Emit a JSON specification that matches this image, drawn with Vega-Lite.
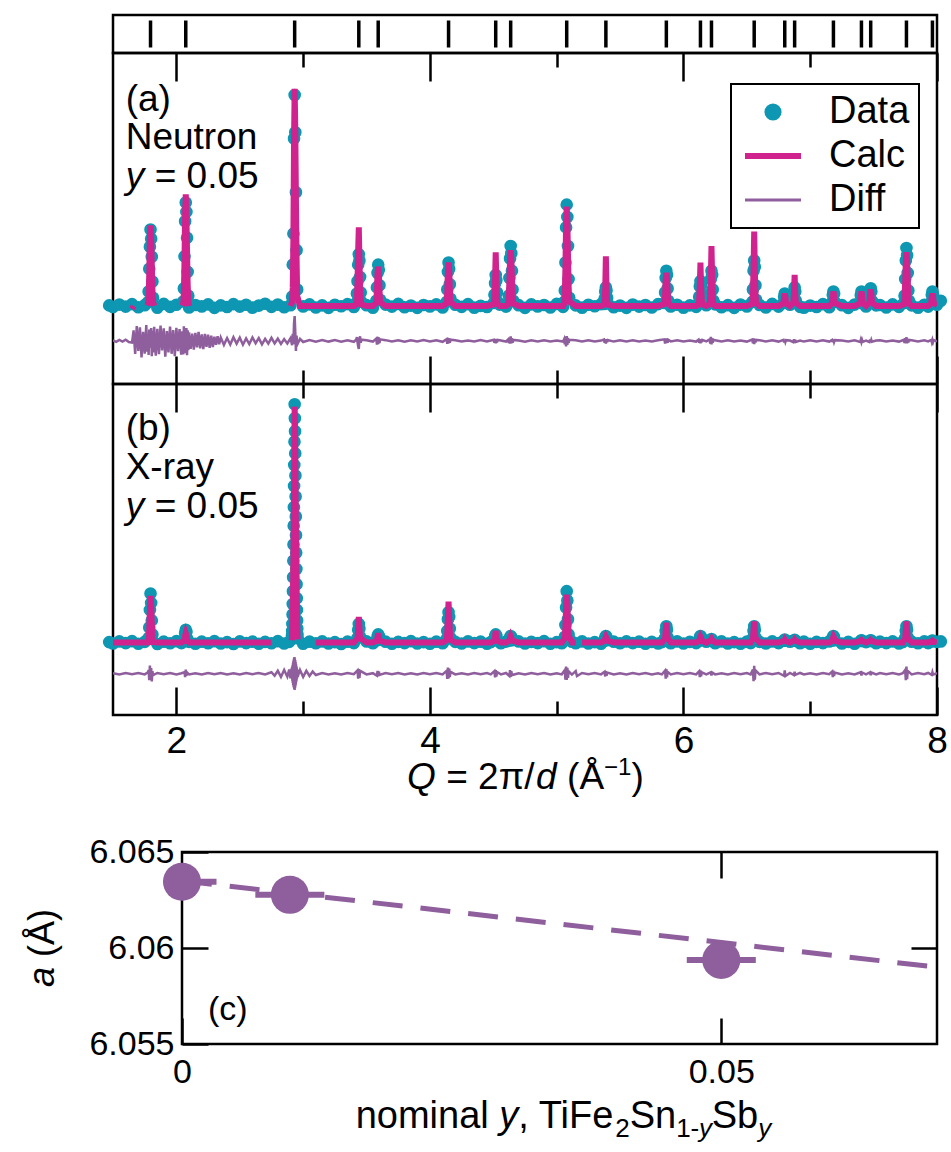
{
"$schema": "https://vega.github.io/schema/vega-lite/v6.json",
"background": "white",
"padding": {"left": 23, "top": 13, "right": 4, "bottom": 4},
"config": {
  "font": "Liberation Sans",
  "view": {"stroke": "black", "strokeWidth": 2.5},
  "axis": {"domain": false, "grid": false, "tickColor": "black", "tickWidth": 2.5, "labelColor": "black", "titleColor": "black", "labelFontSize": 37, "titleFontSize": 37, "titleFontWeight": "normal", "labelFont": "Liberation Sans", "titleFont": "Liberation Sans", "labelFlush": false},
  "legend": {"labelFont": "Liberation Sans"}
},
"datasets": {
  "refl": [{"q":1.796},{"q":2.074},{"q":2.933},{"q":3.439},{"q":3.592},{"q":4.147},{"q":4.519},{"q":4.637},{"q":5.079},{"q":5.388},{"q":5.865},{"q":6.134},{"q":6.221},{"q":6.558},{"q":6.799},{"q":6.877},{"q":7.183},{"q":7.404},{"q":7.477},{"q":7.759},{"q":7.964}],
  "neutron": [
{"q":1.47,"obs":0.3},{"q":1.5,"obs":-0.5,"calc":-1.5,"diff":0.3},{"q":1.525,"diff":-0.4},{"q":1.55,"obs":0.7,"calc":-1.5,"diff":0.5},{"q":1.575,"diff":-0.3},{"q":1.6,"obs":-0.3,"calc":-1.5,"diff":0.6},{"q":1.625,"diff":-0.5},{"q":1.65,"obs":0.9,"calc":-1.4,"diff":-0.8},
{"q":1.6625,"calc":0,"diff":5.1},{"q":1.675,"diff":-6.3},{"q":1.6875,"diff":7.2},{"q":1.7,"obs":-0.6,"calc":0,"diff":-4.8},{"q":1.7125,"diff":6.6},{"q":1.725,"diff":-7.9},{"q":1.7375,"diff":4.4},{"q":1.75,"obs":0.4,"calc":0,"diff":-6.1},{"q":1.7625,"diff":7.7},{"q":1.77,"calc":0.2,"diff":-5.2},
{"q":1.776,"obs":1.8,"calc":1.0,"diff":3.1},{"q":1.781,"obs":7.0,"calc":4.5,"diff":-6.8},{"q":1.786,"obs":18.0,"calc":15.5,"diff":5.5},{"q":1.791,"obs":28.6,"calc":32.0,"diff":-2.4},{"q":1.796,"obs":37.0,"calc":39.0,"diff":-1.9},{"q":1.801,"obs":32.5,"calc":33.5,"diff":6.2},{"q":1.806,"obs":23.8,"calc":20.0,"diff":-7.4},{"q":1.811,"obs":11.8,"calc":7.5,"diff":4.9},{"q":1.816,"obs":4.0,"calc":1.8,"diff":-5.6},
{"q":1.825,"calc":0.1,"diff":6.8},{"q":1.8375,"diff":-7.1},{"q":1.85,"obs":-0.8,"calc":0,"diff":5.9},{"q":1.8625,"diff":-6.4},{"q":1.875,"diff":7.5},{"q":1.8875,"diff":-4.6},{"q":1.9,"obs":1.0,"calc":0,"diff":6.1},{"q":1.9125,"diff":-7.6},{"q":1.925,"diff":4.8},{"q":1.9375,"diff":-5.5},{"q":1.95,"obs":-0.4,"calc":0,"diff":6.9},{"q":1.9625,"diff":-6.2},{"q":1.975,"diff":5.3},{"q":1.9875,"diff":-7.3},{"q":2.0,"obs":0.6,"calc":0,"diff":6.4},{"q":2.0125,"diff":-4.9},{"q":2.025,"diff":5.8},{"q":2.0375,"diff":-6.6},{"q":2.047,"calc":0.2,"diff":4.7},
{"q":2.054,"obs":2.2,"calc":1.2,"diff":-6.5},{"q":2.059,"obs":8.5,"calc":6.0,"diff":7.1},{"q":2.064,"obs":24.0,"calc":22.0,"diff":-3.2},{"q":2.069,"obs":41.0,"calc":45.0,"diff":-5.8},{"q":2.074,"obs":50.0,"calc":54.0,"diff":-4.1},{"q":2.079,"obs":45.5,"calc":44.0,"diff":6.3},{"q":2.084,"obs":33.0,"calc":27.0,"diff":-6.9},{"q":2.089,"obs":16.5,"calc":10.5,"diff":5.2},{"q":2.094,"obs":5.0,"calc":2.5,"diff":-4.4},
{"q":2.1,"obs":-0.7,"calc":0,"diff":4.1},{"q":2.1125,"diff":-3.8},{"q":2.125,"diff":3.5},{"q":2.1375,"diff":-4.2},{"q":2.15,"obs":0.5,"calc":0,"diff":3.9},{"q":2.1625,"diff":-3.1},{"q":2.175,"diff":4.4},{"q":2.1875,"diff":-3.6},{"q":2.2,"obs":-0.2,"calc":0,"diff":3.2},{"q":2.2125,"diff":-3.9},{"q":2.225,"diff":3.4},{"q":2.2375,"diff":-2.8},{"q":2.25,"obs":0.8,"calc":0,"diff":3.0},{"q":2.2625,"diff":-3.3},{"q":2.275,"diff":2.6},{"q":2.2875,"diff":-2.9},{"q":2.3,"obs":-0.9,"calc":0,"diff":2.1},{"q":2.3125,"diff":-1.8},{"q":2.325,"diff":2.3},{"q":2.3375,"diff":-1.6},{"q":2.35,"obs":0.3,"calc":0,"diff":1.7},
{"q":2.375,"diff":-1.9},{"q":2.4,"obs":-0.5,"calc":0,"diff":1.4},{"q":2.425,"diff":-1.7},{"q":2.45,"obs":0.9,"calc":0,"diff":1.8},{"q":2.475,"diff":-1.3},{"q":2.5,"obs":-0.3,"calc":0,"diff":1.6},{"q":2.525,"diff":-1.8},{"q":2.55,"obs":0.6,"calc":0,"diff":1.2},{"q":2.575,"diff":-1.5},{"q":2.6,"obs":-0.8,"calc":0,"diff":1.7},{"q":2.625,"diff":-1.1},{"q":2.65,"obs":0.2,"calc":0,"diff":1.4},{"q":2.675,"diff":-1.6},{"q":2.7,"obs":1.1,"calc":0,"diff":1.0},{"q":2.725,"diff":-1.3},{"q":2.75,"obs":-0.4,"calc":0,"diff":1.5},{"q":2.775,"diff":-1.2},{"q":2.8,"obs":0.7,"calc":0,"diff":1.1},{"q":2.825,"diff":-1.4},{"q":2.85,"obs":-0.6,"calc":0,"diff":0.9},{"q":2.875,"diff":-1.2},{"q":2.9,"obs":0.4,"calc":0,"diff":1.3},
{"q":2.913,"obs":4.5,"calc":2.0,"diff":-2.0},{"q":2.918,"obs":20.0,"calc":9.0,"diff":3.5},{"q":2.923,"obs":35.0,"calc":33.0,"diff":-1.5},{"q":2.928,"obs":81.0,"calc":80.0,"diff":8.5},{"q":2.933,"obs":102.0,"calc":105.0,"diff":12.0},{"q":2.938,"obs":84.0,"calc":85.0,"diff":4.2},{"q":2.943,"obs":55.0,"calc":52.0,"diff":-4.8},{"q":2.948,"obs":27.0,"calc":24.0,"diff":2.6},{"q":2.953,"obs":8.0,"calc":5.0,"diff":-1.8},
{"q":2.975,"calc":0,"diff":1.0},{"q":3.0,"obs":-0.2,"calc":0,"diff":-0.5},{"q":3.05,"obs":0.8,"calc":0,"diff":0.4},{"q":3.1,"obs":-0.7,"calc":0,"diff":-0.4},{"q":3.15,"obs":0.3,"calc":0,"diff":0.5},{"q":3.2,"obs":-0.9,"calc":0,"diff":-0.3},{"q":3.25,"obs":0.6,"calc":0,"diff":0.4},{"q":3.3,"obs":-0.1,"calc":0,"diff":-0.4},{"q":3.35,"obs":0.9,"calc":0,"diff":0.3},{"q":3.4,"obs":-0.5,"calc":0,"diff":-0.4},
{"q":3.419,"obs":1.5,"calc":0.8,"diff":0.7},{"q":3.424,"obs":6.0,"calc":4.0,"diff":1.9},{"q":3.429,"obs":12.0,"calc":12.0,"diff":-0.6},{"q":3.434,"obs":20.0,"calc":27.0,"diff":-2.5},{"q":3.439,"obs":25.0,"calc":38.0,"diff":-3.9},{"q":3.444,"obs":22.0,"calc":22.0,"diff":1.1},{"q":3.449,"obs":14.0,"calc":9.0,"diff":2.2},{"q":3.454,"obs":6.5,"calc":3.0,"diff":-0.9},{"q":3.459,"obs":2.0,"calc":0.8,"diff":0.6},
{"q":3.5,"obs":0.4,"calc":0,"diff":0.3},{"q":3.55,"obs":-0.8,"calc":0,"diff":-0.3},
{"q":3.577,"obs":2.5,"calc":1.5,"diff":1.2},{"q":3.582,"obs":9.0,"calc":8.0,"diff":-1.8},{"q":3.587,"obs":16.0,"calc":16.5,"diff":2.0},{"q":3.592,"obs":20.0,"calc":19.0,"diff":-1.5},{"q":3.597,"obs":17.5,"calc":16.0,"diff":1.7},{"q":3.602,"obs":10.0,"calc":8.0,"diff":-1.0},{"q":3.607,"obs":3.0,"calc":1.8,"diff":0.8},
{"q":3.65,"obs":0.7,"calc":0,"diff":0.4},{"q":3.7,"obs":-0.3,"calc":0,"diff":-0.3},{"q":3.75,"obs":1.0,"calc":0,"diff":0.3},{"q":3.8,"obs":-0.6,"calc":0,"diff":-0.4},{"q":3.85,"obs":0.2,"calc":0,"diff":0.3},{"q":3.9,"obs":-0.9,"calc":0,"diff":-0.2},{"q":3.95,"obs":0.5,"calc":0,"diff":0.4},{"q":4.0,"obs":-0.2,"calc":0,"diff":-0.3},{"q":4.05,"obs":0.8,"calc":0,"diff":0.3},{"q":4.1,"obs":-0.7,"calc":0,"diff":-0.4},
{"q":4.132,"obs":2.0,"calc":1.3,"diff":0.9},{"q":4.137,"obs":8.0,"calc":7.5,"diff":-1.4},{"q":4.142,"obs":16.5,"calc":17.0,"diff":1.5},{"q":4.147,"obs":21.0,"calc":21.0,"diff":-1.2},{"q":4.152,"obs":18.0,"calc":17.5,"diff":1.3},{"q":4.157,"obs":10.5,"calc":8.5,"diff":-0.9},{"q":4.162,"obs":3.5,"calc":2.0,"diff":0.6},
{"q":4.2,"obs":0.6,"calc":0,"diff":0.3},{"q":4.25,"obs":-0.4,"calc":0,"diff":-0.3},{"q":4.3,"obs":0.9,"calc":0,"diff":0.2},{"q":4.35,"obs":-0.8,"calc":0,"diff":-0.3},{"q":4.4,"obs":0.1,"calc":0,"diff":0.4},{"q":4.45,"obs":-0.5,"calc":0,"diff":-0.2},
{"q":4.504,"obs":1.5,"calc":0.8,"diff":0.6},{"q":4.509,"obs":5.5,"calc":4.0,"diff":-0.8},{"q":4.514,"obs":11.0,"calc":13.0,"diff":1.0},{"q":4.519,"obs":15.0,"calc":26.0,"diff":-1.1},{"q":4.524,"obs":12.5,"calc":12.0,"diff":0.9},{"q":4.529,"obs":6.5,"calc":4.0,"diff":-0.7},{"q":4.534,"obs":2.0,"calc":1.0,"diff":0.5},
{"q":4.55,"obs":0.7,"calc":0,"diff":0.3},{"q":4.6,"obs":-0.3,"calc":0,"diff":-0.3},
{"q":4.617,"obs":1.5,"calc":0.8,"diff":0.8},{"q":4.622,"obs":5.0,"calc":3.5,"diff":-1.0},{"q":4.627,"obs":13.5,"calc":12.0,"diff":1.6},{"q":4.632,"obs":23.0,"calc":22.0,"diff":-1.3},{"q":4.637,"obs":29.0,"calc":27.0,"diff":2.2},{"q":4.642,"obs":25.5,"calc":23.0,"diff":-1.1},{"q":4.647,"obs":17.0,"calc":14.0,"diff":1.4},{"q":4.652,"obs":8.0,"calc":5.5,"diff":-0.8},{"q":4.657,"obs":2.5,"calc":1.2,"diff":0.5},
{"q":4.7,"obs":0.4,"calc":0,"diff":0.2},{"q":4.75,"obs":-0.9,"calc":0,"diff":-0.4},{"q":4.8,"obs":0.8,"calc":0,"diff":0.3},{"q":4.85,"obs":-0.2,"calc":0,"diff":-0.2},{"q":4.9,"obs":0.5,"calc":0,"diff":0.3},{"q":4.95,"obs":-0.7,"calc":0,"diff":-0.3},{"q":5.0,"obs":1.0,"calc":0,"diff":0.2},{"q":5.05,"obs":-0.4,"calc":0,"diff":-0.3},
{"q":5.059,"obs":2.0,"calc":1.0,"diff":0.9},{"q":5.064,"obs":7.5,"calc":5.5,"diff":-1.6},{"q":5.069,"obs":21.0,"calc":19.0,"diff":2.1},{"q":5.074,"obs":38.0,"calc":39.0,"diff":-2.6},{"q":5.079,"obs":49.0,"calc":48.0,"diff":2.4},{"q":5.084,"obs":43.0,"calc":41.0,"diff":-1.9},{"q":5.089,"obs":29.0,"calc":25.0,"diff":1.5},{"q":5.094,"obs":13.0,"calc":10.0,"diff":-1.0},{"q":5.099,"obs":4.0,"calc":2.2,"diff":0.6},
{"q":5.15,"obs":0.3,"calc":0,"diff":0.3},{"q":5.2,"obs":-0.8,"calc":0,"diff":-0.2},{"q":5.25,"obs":0.6,"calc":0,"diff":0.3},{"q":5.3,"obs":-0.1,"calc":0,"diff":-0.3},{"q":5.35,"obs":0.9,"calc":0,"diff":0.2},
{"q":5.373,"obs":1.0,"calc":0.6,"diff":0.7},{"q":5.378,"obs":3.5,"calc":3.0,"diff":-0.9},{"q":5.383,"obs":7.0,"calc":9.0,"diff":0.8},{"q":5.388,"obs":9.0,"calc":24.0,"diff":-1.2},{"q":5.393,"obs":7.5,"calc":8.0,"diff":0.9},{"q":5.398,"obs":4.0,"calc":2.5,"diff":-0.6},{"q":5.403,"obs":1.2,"calc":0.6,"diff":0.5},
{"q":5.45,"obs":-0.6,"calc":0,"diff":-0.3},{"q":5.5,"obs":0.2,"calc":0,"diff":0.3},{"q":5.55,"obs":-0.9,"calc":0,"diff":-0.2},{"q":5.6,"obs":0.7,"calc":0,"diff":0.3},{"q":5.65,"obs":-0.3,"calc":0,"diff":-0.3},{"q":5.7,"obs":0.5,"calc":0,"diff":0.2},{"q":5.75,"obs":-0.7,"calc":0,"diff":-0.3},{"q":5.8,"obs":0.9,"calc":0,"diff":0.3},
{"q":5.85,"obs":1.5,"calc":1.0,"diff":0.8},{"q":5.855,"obs":6.5,"calc":6.0,"diff":-1.3},{"q":5.86,"obs":13.5,"calc":13.0,"diff":1.1},{"q":5.865,"obs":17.0,"calc":16.0,"diff":-1.0},{"q":5.87,"obs":15.0,"calc":14.0,"diff":1.2},{"q":5.875,"obs":8.5,"calc":7.0,"diff":-0.9},{"q":5.88,"obs":2.5,"calc":1.5,"diff":0.6},
{"q":5.9,"obs":-0.2,"calc":0,"diff":-0.2},{"q":5.95,"obs":0.6,"calc":0,"diff":0.3},{"q":6.0,"obs":-0.8,"calc":0,"diff":-0.3},{"q":6.05,"obs":0.3,"calc":0,"diff":0.2},{"q":6.1,"obs":-0.4,"calc":0,"diff":-0.3},
{"q":6.119,"obs":1.2,"calc":0.6,"diff":0.6},{"q":6.124,"obs":4.5,"calc":3.5,"diff":-0.8},{"q":6.129,"obs":9.5,"calc":10.0,"diff":0.9},{"q":6.134,"obs":12.0,"calc":21.0,"diff":-1.1},{"q":6.139,"obs":10.0,"calc":9.5,"diff":0.7},{"q":6.144,"obs":5.0,"calc":3.5,"diff":-0.6},{"q":6.149,"obs":1.5,"calc":0.8,"diff":0.5},
{"q":6.18,"obs":0.4,"calc":0,"diff":-0.2},
{"q":6.206,"obs":1.5,"calc":0.8,"diff":0.7},{"q":6.211,"obs":6.0,"calc":5.0,"diff":-1.2},{"q":6.216,"obs":13.0,"calc":14.0,"diff":2.0},{"q":6.221,"obs":17.0,"calc":29.0,"diff":-1.6},{"q":6.226,"obs":15.0,"calc":14.0,"diff":1.3},{"q":6.231,"obs":8.0,"calc":5.0,"diff":-0.8},{"q":6.236,"obs":2.5,"calc":1.0,"diff":0.6},
{"q":6.25,"obs":0.8,"calc":0,"diff":0.3},{"q":6.3,"obs":-0.6,"calc":0,"diff":-0.2},{"q":6.35,"obs":0.4,"calc":0,"diff":0.3},{"q":6.4,"obs":-0.9,"calc":0,"diff":-0.3},{"q":6.45,"obs":0.7,"calc":0,"diff":0.2},{"q":6.5,"obs":-0.2,"calc":0,"diff":-0.3},
{"q":6.543,"obs":2.0,"calc":1.0,"diff":0.7},{"q":6.548,"obs":8.0,"calc":6.5,"diff":-1.1},{"q":6.553,"obs":17.0,"calc":18.0,"diff":1.2},{"q":6.558,"obs":22.0,"calc":36.0,"diff":-1.5},{"q":6.563,"obs":19.0,"calc":17.0,"diff":1.0},{"q":6.568,"obs":10.0,"calc":6.0,"diff":-0.7},{"q":6.573,"obs":3.0,"calc":1.5,"diff":0.5},
{"q":6.6,"obs":0.5,"calc":0,"diff":0.3},{"q":6.65,"obs":-0.7,"calc":0,"diff":-0.2},{"q":6.7,"obs":1.0,"calc":0,"diff":0.3},{"q":6.75,"obs":-0.3,"calc":0,"diff":-0.3},
{"q":6.789,"obs":1.5,"calc":1.2,"diff":0.5},{"q":6.794,"obs":4.5,"calc":4.5,"diff":-0.7},{"q":6.799,"obs":6.0,"calc":6.0,"diff":0.6},{"q":6.804,"obs":4.8,"calc":4.5,"diff":-0.5},{"q":6.809,"obs":1.8,"calc":1.4,"diff":0.4},
{"q":6.84,"obs":0.6,"calc":0,"diff":0.2},
{"q":6.867,"obs":2.0,"calc":1.5,"diff":-0.6},{"q":6.872,"obs":6.5,"calc":6.0,"diff":0.8},{"q":6.877,"obs":9.0,"calc":15.0,"diff":-0.9},{"q":6.882,"obs":7.0,"calc":6.0,"diff":0.6},{"q":6.887,"obs":2.5,"calc":1.5,"diff":-0.5},
{"q":6.92,"obs":-0.4,"calc":0,"diff":0.2},{"q":6.95,"obs":-0.8,"calc":0,"diff":-0.3},{"q":7.0,"obs":0.2,"calc":0,"diff":0.3},{"q":7.05,"obs":-0.5,"calc":0,"diff":-0.2},{"q":7.1,"obs":0.9,"calc":0,"diff":0.3},{"q":7.15,"obs":-0.6,"calc":0,"diff":-0.3},
{"q":7.173,"obs":1.8,"calc":1.4,"diff":0.5},{"q":7.178,"obs":5.5,"calc":5.2,"diff":-0.6},{"q":7.183,"obs":7.0,"calc":7.0,"diff":0.7},{"q":7.188,"obs":5.8,"calc":5.4,"diff":-0.5},{"q":7.193,"obs":2.0,"calc":1.5,"diff":0.4},
{"q":7.25,"obs":0.4,"calc":0,"diff":0.2},{"q":7.3,"obs":-0.9,"calc":0,"diff":-0.3},{"q":7.35,"obs":0.7,"calc":0,"diff":0.3},
{"q":7.394,"obs":1.6,"calc":1.3,"diff":-0.5},{"q":7.399,"obs":5.2,"calc":5.0,"diff":0.6},{"q":7.404,"obs":7.0,"calc":7.0,"diff":-0.6},{"q":7.409,"obs":5.6,"calc":5.2,"diff":0.5},{"q":7.414,"obs":1.9,"calc":1.4,"diff":-0.4},
{"q":7.44,"obs":-0.2,"calc":0,"diff":0.2},
{"q":7.467,"obs":2.0,"calc":1.6,"diff":-0.5},{"q":7.472,"obs":6.5,"calc":6.0,"diff":0.7},{"q":7.477,"obs":8.6,"calc":8.0,"diff":-0.6},{"q":7.482,"obs":7.0,"calc":6.2,"diff":0.5},{"q":7.487,"obs":2.4,"calc":1.8,"diff":-0.4},
{"q":7.52,"obs":0.3,"calc":0,"diff":0.2},{"q":7.55,"obs":0.5,"calc":0,"diff":0.3},{"q":7.6,"obs":-0.7,"calc":0,"diff":-0.3},{"q":7.65,"obs":0.8,"calc":0,"diff":0.2},{"q":7.7,"obs":-0.4,"calc":0,"diff":-0.3},
{"q":7.739,"obs":1.5,"calc":0.8,"diff":0.6},{"q":7.744,"obs":5.0,"calc":3.5,"diff":-1.0},{"q":7.749,"obs":13.0,"calc":11.5,"diff":1.4},{"q":7.754,"obs":22.0,"calc":21.0,"diff":-1.2},{"q":7.759,"obs":28.0,"calc":26.0,"diff":1.9},{"q":7.764,"obs":24.5,"calc":22.0,"diff":-1.1},{"q":7.769,"obs":16.0,"calc":13.0,"diff":1.0},{"q":7.774,"obs":7.5,"calc":5.0,"diff":-0.7},{"q":7.779,"obs":2.5,"calc":1.2,"diff":0.5},
{"q":7.8,"obs":0.3,"calc":0,"diff":0.3},{"q":7.85,"obs":-0.8,"calc":0,"diff":-0.2},{"q":7.9,"obs":0.6,"calc":0,"diff":0.3},{"q":7.93,"obs":-0.3,"calc":0,"diff":-0.2},
{"q":7.954,"obs":1.8,"calc":1.3,"diff":0.5},{"q":7.959,"obs":5.5,"calc":4.6,"diff":-0.6},{"q":7.964,"obs":7.0,"calc":6.0,"diff":0.6},{"q":7.969,"obs":5.6,"calc":4.7,"diff":-0.5},{"q":7.974,"obs":2.0,"calc":1.4,"diff":0.4},
{"q":8.0,"obs":0.6,"calc":0.3,"diff":-0.2},{"q":8.03,"obs":2.5}
  ],
  "xray": [
{"q":1.47,"obs":0.2},{"q":1.5,"obs":-0.4,"calc":0,"diff":0.2},{"q":1.55,"obs":0.5,"calc":0,"diff":-0.3},{"q":1.6,"obs":-0.2,"calc":0,"diff":0.3},{"q":1.65,"obs":0.6,"calc":0,"diff":-0.2},{"q":1.7,"obs":-0.5,"calc":0,"diff":0.3},{"q":1.75,"obs":0.3,"calc":0,"diff":-0.3},
{"q":1.776,"calc":0.1,"diff":0.6},{"q":1.781,"obs":2.0,"calc":1.5,"diff":1.5},{"q":1.786,"obs":6.5,"calc":6.0,"diff":-2.8},{"q":1.791,"obs":14.0,"calc":13.5,"diff":3.5},{"q":1.796,"obs":21.0,"calc":20.0,"diff":-1.2},{"q":1.801,"obs":17.0,"calc":16.5,"diff":2.4},{"q":1.806,"obs":9.5,"calc":8.5,"diff":-3.3},{"q":1.811,"obs":3.5,"calc":2.5,"diff":1.0},{"q":1.816,"calc":0.2,"diff":-0.6},
{"q":1.85,"obs":-0.6,"calc":0,"diff":0.3},{"q":1.9,"obs":0.4,"calc":0,"diff":-0.2},{"q":1.95,"obs":-0.3,"calc":0,"diff":0.3},{"q":2.0,"obs":0.6,"calc":0,"diff":-0.3},{"q":2.04,"obs":-0.2,"calc":0,"diff":0.2},
{"q":2.064,"obs":1.5,"calc":1.0,"diff":0.6},{"q":2.069,"obs":4.0,"calc":3.0,"diff":-1.5},{"q":2.074,"obs":5.5,"calc":4.0,"diff":1.7},{"q":2.079,"obs":4.5,"calc":3.2,"diff":-0.9},{"q":2.084,"obs":1.8,"calc":1.2,"diff":0.5},
{"q":2.1,"obs":0.3,"calc":0,"diff":-0.3},{"q":2.15,"obs":-0.5,"calc":0,"diff":0.2},{"q":2.2,"obs":0.4,"calc":0,"diff":-0.3},{"q":2.25,"obs":-0.3,"calc":0,"diff":0.3},{"q":2.3,"obs":0.6,"calc":0,"diff":-0.2},{"q":2.35,"obs":-0.4,"calc":0,"diff":0.3},{"q":2.4,"obs":0.2,"calc":0,"diff":-0.3},{"q":2.45,"obs":-0.6,"calc":0,"diff":0.2},{"q":2.5,"obs":0.5,"calc":0,"diff":-0.3},{"q":2.55,"obs":-0.2,"calc":0,"diff":0.3},{"q":2.6,"obs":0.4,"calc":0,"diff":-0.2},{"q":2.65,"obs":-0.5,"calc":0,"diff":0.3},{"q":2.7,"obs":0.3,"calc":0,"diff":-0.3},
{"q":2.75,"obs":-0.3,"calc":0,"diff":0.6},{"q":2.775,"diff":-0.9},{"q":2.8,"obs":0.6,"calc":0,"diff":1.2},{"q":2.825,"diff":-1.4},{"q":2.85,"obs":-0.4,"calc":0,"diff":1.6},{"q":2.875,"diff":-1.3},{"q":2.89,"obs":0.3,"calc":0,"diff":1.8},{"q":2.9,"diff":-2.0},
{"q":2.9105,"obs":1.5,"calc":1.0,"diff":2.5},{"q":2.912,"obs":3.0,"calc":2.2,"diff":-2.2},{"q":2.9135,"obs":5.0,"calc":4.0,"diff":3.0},{"q":2.915,"obs":8.0,"calc":7.0,"diff":-3.1},{"q":2.9165,"obs":12.0,"calc":11.0,"diff":3.6},{"q":2.918,"obs":16.5,"calc":15.5,"diff":-4.0},{"q":2.9195,"obs":22.0,"calc":21.0,"diff":4.4},{"q":2.921,"obs":28.0,"calc":27.5,"diff":-4.8},{"q":2.9225,"obs":35.0,"calc":34.0,"diff":5.3},{"q":2.924,"obs":42.0,"calc":41.5,"diff":-5.5},{"q":2.9255,"obs":50.0,"calc":49.0,"diff":6.1},{"q":2.927,"obs":58.0,"calc":57.5,"diff":-6.0},{"q":2.9285,"obs":67.0,"calc":66.0,"diff":6.8},{"q":2.93,"obs":76.0,"calc":75.5,"diff":-6.6},{"q":2.9315,"obs":86.0,"calc":85.0,"diff":7.1},{"q":2.933,"obs":102.0,"calc":101.0,"diff":-7.0},{"q":2.9345,"obs":96.0,"calc":96.5,"diff":6.5},{"q":2.936,"obs":90.5,"calc":90.0,"diff":-6.2},{"q":2.9375,"obs":81.0,"calc":81.5,"diff":5.8},{"q":2.939,"obs":71.5,"calc":71.0,"diff":-5.4},{"q":2.9405,"obs":62.5,"calc":62.0,"diff":5.0},{"q":2.942,"obs":54.0,"calc":54.5,"diff":-4.6},{"q":2.9435,"obs":46.0,"calc":45.5,"diff":4.1},{"q":2.945,"obs":38.5,"calc":38.0,"diff":-3.7},{"q":2.9465,"obs":31.5,"calc":31.0,"diff":3.3},{"q":2.948,"obs":25.0,"calc":24.5,"diff":-2.9},{"q":2.9495,"obs":19.0,"calc":18.0,"diff":2.6},{"q":2.951,"obs":14.0,"calc":13.5,"diff":-2.2},{"q":2.9525,"obs":9.5,"calc":9.0,"diff":1.9},{"q":2.954,"obs":6.0,"calc":5.5,"diff":-1.7},{"q":2.9555,"obs":3.5,"calc":3.0,"diff":1.5},{"q":2.957,"obs":1.8,"calc":1.4,"diff":-1.3},
{"q":2.975,"diff":1.6},{"q":3.0,"obs":-0.5,"calc":0,"diff":-1.4},{"q":3.025,"diff":1.2},{"q":3.05,"obs":0.4,"calc":0,"diff":-1.0},{"q":3.075,"diff":0.9},{"q":3.1,"obs":-0.3,"calc":0,"diff":-0.6},{"q":3.15,"obs":0.5,"calc":0,"diff":0.3},{"q":3.2,"obs":-0.4,"calc":0,"diff":-0.3},{"q":3.25,"obs":0.2,"calc":0,"diff":0.2},{"q":3.3,"obs":-0.6,"calc":0,"diff":-0.3},{"q":3.35,"obs":0.4,"calc":0,"diff":0.3},{"q":3.4,"obs":-0.2,"calc":0,"diff":-0.2},
{"q":3.429,"obs":2.0,"calc":1.8,"diff":1.4},{"q":3.434,"obs":5.5,"calc":6.0,"diff":-2.1},{"q":3.439,"obs":8.0,"calc":11.0,"diff":2.0},{"q":3.444,"obs":6.0,"calc":6.0,"diff":-1.8},{"q":3.449,"obs":2.5,"calc":2.0,"diff":1.2},
{"q":3.5,"obs":0.5,"calc":0,"diff":-0.3},{"q":3.55,"obs":-0.3,"calc":0,"diff":0.2},
{"q":3.582,"obs":1.0,"calc":0.8,"diff":-0.9},{"q":3.587,"obs":2.6,"calc":2.6,"diff":1.2},{"q":3.592,"obs":3.5,"calc":4.0,"diff":-1.1},{"q":3.597,"obs":2.8,"calc":2.6,"diff":0.9},{"q":3.602,"obs":1.2,"calc":0.9,"diff":-0.5},
{"q":3.65,"obs":0.4,"calc":0,"diff":0.3},{"q":3.7,"obs":-0.5,"calc":0,"diff":-0.2},{"q":3.75,"obs":0.3,"calc":0,"diff":0.3},{"q":3.8,"obs":-0.2,"calc":0,"diff":-0.3},{"q":3.85,"obs":0.6,"calc":0,"diff":0.2},{"q":3.9,"obs":-0.4,"calc":0,"diff":-0.3},{"q":3.95,"obs":0.2,"calc":0,"diff":0.3},{"q":4.0,"obs":-0.5,"calc":0,"diff":-0.2},{"q":4.05,"obs":0.4,"calc":0,"diff":0.3},{"q":4.1,"obs":-0.3,"calc":0,"diff":-0.3},
{"q":4.132,"obs":1.5,"calc":1.0,"diff":1.2},{"q":4.137,"obs":5.0,"calc":4.5,"diff":-2.3},{"q":4.142,"obs":10.0,"calc":11.0,"diff":2.6},{"q":4.147,"obs":13.0,"calc":17.5,"diff":-2.0},{"q":4.152,"obs":11.0,"calc":10.5,"diff":2.2},{"q":4.157,"obs":6.0,"calc":4.5,"diff":-1.5},{"q":4.162,"obs":2.0,"calc":1.2,"diff":0.8},
{"q":4.2,"obs":0.3,"calc":0,"diff":-0.3},{"q":4.25,"obs":-0.4,"calc":0,"diff":0.2},{"q":4.3,"obs":0.5,"calc":0,"diff":-0.3},{"q":4.35,"obs":-0.2,"calc":0,"diff":0.3},{"q":4.4,"obs":0.4,"calc":0,"diff":-0.2},{"q":4.45,"obs":-0.5,"calc":0,"diff":0.3},{"q":4.48,"obs":0.2,"calc":0,"diff":-0.3},
{"q":4.509,"obs":1.0,"calc":0.8,"diff":1.1},{"q":4.514,"obs":2.6,"calc":2.8,"diff":-1.6},{"q":4.519,"obs":3.5,"calc":5.0,"diff":1.5},{"q":4.524,"obs":2.8,"calc":2.8,"diff":-1.2},{"q":4.529,"obs":1.2,"calc":0.9,"diff":0.7},
{"q":4.56,"obs":-0.3,"calc":0,"diff":-0.3},{"q":4.6,"obs":0.4,"calc":0,"diff":0.3},
{"q":4.627,"obs":0.9,"calc":0.8,"diff":-1.0},{"q":4.632,"obs":2.1,"calc":2.1,"diff":1.5},{"q":4.637,"obs":2.8,"calc":2.8,"diff":-1.4},{"q":4.642,"obs":2.3,"calc":2.2,"diff":1.1},{"q":4.647,"obs":1.0,"calc":0.9,"diff":-0.6},
{"q":4.7,"obs":0.5,"calc":0,"diff":0.2},{"q":4.75,"obs":-0.4,"calc":0,"diff":-0.3},{"q":4.8,"obs":0.3,"calc":0,"diff":0.3},{"q":4.85,"obs":-0.2,"calc":0,"diff":-0.2},{"q":4.9,"obs":0.6,"calc":0,"diff":0.3},{"q":4.95,"obs":-0.5,"calc":0,"diff":-0.3},{"q":5.0,"obs":0.2,"calc":0,"diff":0.2},{"q":5.04,"obs":-0.3,"calc":0,"diff":-0.3},
{"q":5.064,"obs":2.5,"calc":2.0,"diff":1.5},{"q":5.069,"obs":7.5,"calc":7.0,"diff":-2.6},{"q":5.074,"obs":15.0,"calc":14.5,"diff":3.0},{"q":5.079,"obs":22.0,"calc":20.5,"diff":-2.7},{"q":5.084,"obs":18.0,"calc":17.0,"diff":2.5},{"q":5.089,"obs":10.0,"calc":9.0,"diff":-1.8},{"q":5.094,"obs":3.5,"calc":3.0,"diff":1.0},
{"q":5.12,"obs":0.4,"calc":0,"diff":-0.4},{"q":5.15,"obs":-0.3,"calc":0,"diff":1.1},{"q":5.16,"diff":-1.0},{"q":5.2,"obs":0.5,"calc":0,"diff":0.3},{"q":5.25,"obs":-0.4,"calc":0,"diff":-0.2},{"q":5.3,"obs":0.2,"calc":0,"diff":0.3},{"q":5.35,"obs":-0.5,"calc":0,"diff":-0.3},
{"q":5.378,"obs":0.9,"calc":0.7,"diff":0.8},{"q":5.383,"obs":2.0,"calc":1.8,"diff":-1.2},{"q":5.388,"obs":2.8,"calc":2.5,"diff":1.1},{"q":5.393,"obs":2.2,"calc":2.0,"diff":-0.9},{"q":5.398,"obs":1.0,"calc":0.8,"diff":0.5},
{"q":5.45,"obs":0.4,"calc":0,"diff":-0.3},{"q":5.5,"obs":-0.3,"calc":0,"diff":0.2},{"q":5.55,"obs":0.5,"calc":0,"diff":-0.3},{"q":5.6,"obs":-0.2,"calc":0,"diff":0.3},{"q":5.65,"obs":0.4,"calc":0,"diff":-0.2},{"q":5.7,"obs":-0.5,"calc":0,"diff":0.3},{"q":5.75,"obs":0.3,"calc":0,"diff":-0.3},{"q":5.8,"obs":-0.4,"calc":0,"diff":0.2},{"q":5.83,"obs":0.2,"calc":0,"diff":-0.3},
{"q":5.855,"obs":2.0,"calc":2.0,"diff":1.3},{"q":5.86,"obs":5.0,"calc":5.5,"diff":-2.1},{"q":5.865,"obs":7.0,"calc":8.5,"diff":1.9},{"q":5.87,"obs":5.5,"calc":5.5,"diff":-1.6},{"q":5.875,"obs":2.2,"calc":2.0,"diff":0.8},
{"q":5.9,"obs":-0.3,"calc":0,"diff":-0.3},{"q":5.95,"obs":0.5,"calc":0,"diff":0.3},{"q":6.0,"obs":-0.4,"calc":0,"diff":-0.2},{"q":6.05,"obs":0.3,"calc":0,"diff":0.3},{"q":6.1,"obs":-0.2,"calc":0,"diff":-0.3},
{"q":6.124,"obs":0.9,"calc":0.7,"diff":1.0},{"q":6.129,"obs":2.0,"calc":1.8,"diff":-1.5},{"q":6.134,"obs":2.8,"calc":2.5,"diff":1.4},{"q":6.139,"obs":2.2,"calc":2.0,"diff":-1.1},{"q":6.144,"obs":1.0,"calc":0.8,"diff":0.6},
{"q":6.18,"obs":0.4,"calc":0,"diff":-0.3},{"q":6.216,"obs":1.0,"calc":1.0,"diff":0.6},{"q":6.221,"obs":1.5,"calc":1.5,"diff":-0.8},{"q":6.226,"obs":1.0,"calc":1.0,"diff":0.5},
{"q":6.25,"obs":-0.3,"calc":0,"diff":-0.3},{"q":6.3,"obs":0.5,"calc":0,"diff":0.2},{"q":6.35,"obs":-0.4,"calc":0,"diff":-0.3},{"q":6.4,"obs":0.2,"calc":0,"diff":0.3},{"q":6.45,"obs":-0.5,"calc":0,"diff":-0.2},{"q":6.5,"obs":0.4,"calc":0,"diff":0.3},{"q":6.53,"obs":-0.2,"calc":0,"diff":-0.3},
{"q":6.548,"obs":2.0,"calc":1.8,"diff":1.8},{"q":6.553,"obs":5.0,"calc":5.5,"diff":-3.2},{"q":6.558,"obs":7.0,"calc":9.0,"diff":3.4},{"q":6.563,"obs":5.5,"calc":5.5,"diff":-2.6},{"q":6.568,"obs":2.2,"calc":2.0,"diff":1.4},
{"q":6.6,"obs":0.3,"calc":0,"diff":-0.3},{"q":6.65,"obs":-0.4,"calc":0,"diff":0.3},{"q":6.7,"obs":0.5,"calc":0,"diff":-0.2},{"q":6.75,"obs":-0.2,"calc":0,"diff":0.3},
{"q":6.794,"obs":0.8,"calc":0.7,"diff":-0.9},{"q":6.799,"obs":1.3,"calc":1.2,"diff":1.4},{"q":6.804,"obs":0.8,"calc":0.7,"diff":-1.0},{"q":6.84,"obs":0.4,"calc":0,"diff":0.3},
{"q":6.872,"obs":0.8,"calc":0.8,"diff":-0.6},{"q":6.877,"obs":1.2,"calc":1.2,"diff":0.8},{"q":6.882,"obs":0.8,"calc":0.8,"diff":-0.5},
{"q":6.92,"obs":-0.3,"calc":0,"diff":0.3},{"q":6.95,"obs":0.4,"calc":0,"diff":-0.3},{"q":7.0,"obs":-0.5,"calc":0,"diff":0.2},{"q":7.05,"obs":0.3,"calc":0,"diff":-0.3},{"q":7.1,"obs":-0.2,"calc":0,"diff":0.3},{"q":7.15,"obs":0.5,"calc":0,"diff":-0.2},
{"q":7.173,"obs":0.9,"calc":0.7,"diff":0.9},{"q":7.178,"obs":2.0,"calc":1.8,"diff":-1.5},{"q":7.183,"obs":2.8,"calc":2.5,"diff":1.3},{"q":7.188,"obs":2.2,"calc":2.0,"diff":-1.0},{"q":7.193,"obs":1.0,"calc":0.8,"diff":0.5},
{"q":7.25,"obs":-0.4,"calc":0,"diff":-0.3},{"q":7.3,"obs":0.3,"calc":0,"diff":0.2},{"q":7.35,"obs":-0.5,"calc":0,"diff":-0.3},
{"q":7.399,"obs":0.7,"calc":0.7,"diff":0.6},{"q":7.404,"obs":1.0,"calc":1.0,"diff":-0.8},{"q":7.409,"obs":0.7,"calc":0.7,"diff":0.5},{"q":7.44,"obs":0.2,"calc":0,"diff":-0.3},
{"q":7.472,"obs":0.7,"calc":0.7,"diff":0.6},{"q":7.477,"obs":1.0,"calc":1.0,"diff":-0.7},{"q":7.482,"obs":0.7,"calc":0.7,"diff":0.5},
{"q":7.52,"obs":-0.3,"calc":0,"diff":-0.3},{"q":7.55,"obs":0.4,"calc":0,"diff":0.3},{"q":7.6,"obs":-0.2,"calc":0,"diff":-0.2},{"q":7.65,"obs":0.5,"calc":0,"diff":0.3},{"q":7.7,"obs":-0.4,"calc":0,"diff":-0.3},{"q":7.73,"obs":0.2,"calc":0,"diff":0.2},
{"q":7.749,"obs":2.0,"calc":1.8,"diff":1.6},{"q":7.754,"obs":5.0,"calc":5.5,"diff":-2.8},{"q":7.759,"obs":7.0,"calc":9.0,"diff":3.0},{"q":7.764,"obs":5.5,"calc":5.5,"diff":-2.4},{"q":7.769,"obs":2.2,"calc":2.0,"diff":1.2},
{"q":7.8,"obs":0.4,"calc":0,"diff":-0.3},{"q":7.85,"obs":-0.3,"calc":0,"diff":0.3},{"q":7.9,"obs":0.5,"calc":0,"diff":-0.2},{"q":7.93,"obs":-0.2,"calc":0,"diff":0.3},
{"q":7.959,"obs":0.6,"calc":0.6,"diff":-0.5},{"q":7.964,"obs":0.9,"calc":0.8,"diff":0.6},{"q":7.969,"obs":0.6,"calc":0.6,"diff":-0.4},
{"q":8.0,"obs":0.3,"calc":0,"diff":0.2},{"q":8.03,"obs":0.5}
  ],
  "lattice": [{"y":0,"a":6.06345,"lo":-0.0032,"hi":0.0032},{"y":0.01,"a":6.06277,"lo":0.0068,"hi":0.0132},{"y":0.05,"a":6.05938,"lo":0.0468,"hi":0.0532}],
  "fit": [{"y":0,"a":6.0635},{"y":0.07,"a":6.059}]
},
"vconcat": [
  {
    "vconcat": [
      {
        "width": 824, "height": 38,
        "data": {"name": "refl"},
        "mark": {"type": "tick", "color": "black", "thickness": 3.5, "size": 27, "opacity": 1},
        "encoding": {"x": {"field": "q", "type": "quantitative", "scale": {"domain": [1.5, 8], "nice": false, "zero": false}, "axis": null}}
      },
      {
        "width": 824, "height": 331,
        "data": {"name": "neutron"},
        "layer": [
          {
            "mark": {"type": "line", "strokeWidth": 2.5, "clip": true},
            "encoding": {
              "x": {"field": "q", "type": "quantitative", "scale": {"domain": [1.5, 8], "nice": false, "zero": false},
                    "axis": {"orient": "top", "values": [2,3,4,5,6,7,8], "tickSize": {"condition": {"test": "datum.value % 2 === 0", "value": -28}, "value": -14}, "labels": false, "title": null}},
              "y": {"field": "diff", "type": "quantitative", "scale": {"domain": [-20.8, 139.2], "nice": false, "zero": false}, "axis": null},
              "color": {"datum": "Diff", "type": "nominal", "scale": {"domain": ["Data", "Calc", "Diff"], "range": ["#0e97b2", "#d1238d", "#8f5e9c"]},
                "legend": {"orient": "none", "legendX": 618, "legendY": 31, "title": null, "labelFontSize": 38, "labelColor": "black", "labelOffset": 37, "symbolSize": 3136, "symbolType": "stroke", "symbolStrokeWidth": 5, "symbolOffset": 14, "rowPadding": 6, "padding": 9, "strokeColor": "black", "fillColor": "white",
                  "encode": {
                    "legend": {"update": {"strokeWidth": {"value": 2}}},
                    "symbols": {"update": {
                    "shape": {"signal": "datum.value === 'Data' ? 'circle' : 'stroke'"},
                    "size": {"signal": "datum.value === 'Data' ? 200 : 3136"},
                    "strokeWidth": {"signal": "datum.value === 'Calc' ? 6 : 3"},
                    "fill": {"signal": "datum.value === 'Data' ? '#0e97b2' : 'transparent'"},
                    "stroke": {"signal": "datum.value === 'Calc' ? '#d1238d' : (datum.value === 'Diff' ? '#8f5e9c' : 'transparent')"},
                    "opacity": {"value": 1}}}}}}
            }
          },
          {
            "layer": [
              {
                "mark": {"type": "circle", "size": 160, "opacity": 1, "clip": false},
                "encoding": {
                  "x": {"field": "q", "type": "quantitative", "axis": {"orient": "bottom", "values": [2,3,4,5,6,7,8], "tickSize": {"condition": {"test": "datum.value % 2 === 0", "value": -28}, "value": -14}, "labels": false, "title": null}},
                  "y": {"field": "obs", "type": "quantitative", "scale": {"domain": [-37.7, 122.3], "nice": false, "zero": false}, "axis": null},
                  "color": {"datum": "Data", "type": "nominal"}
                }
              },
              {
                "mark": {"type": "line", "strokeWidth": 6, "clip": true, "strokeJoin": "miter", "strokeMiterLimit": 4},
                "encoding": {
                  "x": {"field": "q", "type": "quantitative"},
                  "y": {"field": "calc", "type": "quantitative"},
                  "color": {"datum": "Calc", "type": "nominal"}
                }
              },
              {
                "data": {"values": [{}]},
                "mark": {"type": "text", "text": "(a)", "align": "left", "baseline": "alphabetic", "fontSize": 37, "color": "black"},
                "encoding": {"x": {"datum": 1.6, "type": "quantitative"}, "y": {"datum": 94.3, "type": "quantitative"}}
              },
              {
                "data": {"values": [{}]},
                "mark": {"type": "text", "text": "Neutron", "align": "left", "baseline": "alphabetic", "fontSize": 37, "color": "black"},
                "encoding": {"x": {"datum": 1.6, "type": "quantitative"}, "y": {"datum": 75.8, "type": "quantitative"}}
              },
              {
                "data": {"values": [{}]},
                "mark": {"type": "text", "text": "y", "align": "left", "baseline": "alphabetic", "fontSize": 37, "fontStyle": "italic", "color": "black"},
                "encoding": {"x": {"datum": 1.6, "type": "quantitative"}, "y": {"datum": 57.2, "type": "quantitative"}}
              },
              {
                "data": {"values": [{}]},
                "mark": {"type": "text", "text": "= 0.05", "align": "left", "baseline": "alphabetic", "fontSize": 37, "dx": 29, "color": "black"},
                "encoding": {"x": {"datum": 1.6, "type": "quantitative"}, "y": {"datum": 57.2, "type": "quantitative"}}
              }
            ]
          }
        ],
        "resolve": {"scale": {"y": "independent"}, "axis": {"x": "independent"}}
      },
      {
        "width": 824, "height": 331,
        "data": {"name": "xray"},
        "layer": [
          {
            "mark": {"type": "line", "strokeWidth": 2.5, "clip": true, "color": "#8f5e9c"},
            "encoding": {
              "x": {"field": "q", "type": "quantitative", "scale": {"domain": [1.5, 8], "nice": false, "zero": false},
                    "axis": {"orient": "top", "values": [2,3,4,5,6,7,8], "tickSize": {"condition": {"test": "datum.value % 2 === 0", "value": -28}, "value": -14}, "labels": false, "title": null}},
              "y": {"field": "diff", "type": "quantitative", "scale": {"domain": [-17.7, 124.0], "nice": false, "zero": false}, "axis": null}
            }
          },
          {
            "layer": [
              {
                "mark": {"type": "circle", "size": 160, "opacity": 1, "clip": false, "color": "#0e97b2"},
                "encoding": {
                  "x": {"field": "q", "type": "quantitative", "axis": {"orient": "bottom", "values": [2,3,4,5,6,7,8], "format": "d", "tickSize": {"condition": {"test": "datum.value % 2 === 0", "value": -28}, "value": -14}, "labelExpr": "datum.value % 2 === 0 ? datum.label : ''", "labelPadding": 36, "title": null}},
                  "y": {"field": "obs", "type": "quantitative", "scale": {"domain": [-31.0, 110.7], "nice": false, "zero": false}, "axis": null}
                }
              },
              {
                "mark": {"type": "line", "strokeWidth": 6, "clip": true, "strokeJoin": "miter", "strokeMiterLimit": 4, "color": "#d1238d"},
                "encoding": {
                  "x": {"field": "q", "type": "quantitative"},
                  "y": {"field": "calc", "type": "quantitative"}
                }
              },
              {
                "data": {"values": [{}]},
                "mark": {"type": "text", "text": "(b)", "align": "left", "baseline": "alphabetic", "fontSize": 37, "color": "black"},
                "encoding": {"x": {"datum": 1.6, "type": "quantitative"}, "y": {"datum": 86.6, "type": "quantitative"}}
              },
              {
                "data": {"values": [{}]},
                "mark": {"type": "text", "text": "X-ray", "align": "left", "baseline": "alphabetic", "fontSize": 37, "color": "black"},
                "encoding": {"x": {"datum": 1.6, "type": "quantitative"}, "y": {"datum": 69.9, "type": "quantitative"}}
              },
              {
                "data": {"values": [{}]},
                "mark": {"type": "text", "text": "y", "align": "left", "baseline": "alphabetic", "fontSize": 37, "fontStyle": "italic", "color": "black"},
                "encoding": {"x": {"datum": 1.6, "type": "quantitative"}, "y": {"datum": 53.5, "type": "quantitative"}}
              },
              {
                "data": {"values": [{}]},
                "mark": {"type": "text", "text": "= 0.05", "align": "left", "baseline": "alphabetic", "fontSize": 37, "dx": 29, "color": "black"},
                "encoding": {"x": {"datum": 1.6, "type": "quantitative"}, "y": {"datum": 53.5, "type": "quantitative"}}
              },
              {
                "data": {"values": [{}]},
                "mark": {"type": "text", "text": "Q", "align": "left", "baseline": "alphabetic", "fontSize": 37, "fontStyle": "italic", "color": "black"},
                "encoding": {"x": {"datum": 3.82, "type": "quantitative"}, "y": {"datum": -62.7, "type": "quantitative"}}
              },
              {
                "data": {"values": [{}]},
                "mark": {"type": "text", "text": "= 2π/", "align": "left", "baseline": "alphabetic", "fontSize": 37, "dx": 39.1, "color": "black"},
                "encoding": {"x": {"datum": 3.82, "type": "quantitative"}, "y": {"datum": -62.7, "type": "quantitative"}}
              },
              {
                "data": {"values": [{}]},
                "mark": {"type": "text", "text": "d", "align": "left", "baseline": "alphabetic", "fontSize": 37, "fontStyle": "italic", "dx": 129, "color": "black"},
                "encoding": {"x": {"datum": 3.82, "type": "quantitative"}, "y": {"datum": -62.7, "type": "quantitative"}}
              },
              {
                "data": {"values": [{}]},
                "mark": {"type": "text", "text": "(Å", "align": "left", "baseline": "alphabetic", "fontSize": 37, "dx": 160, "color": "black"},
                "encoding": {"x": {"datum": 3.82, "type": "quantitative"}, "y": {"datum": -62.7, "type": "quantitative"}}
              },
              {
                "data": {"values": [{}]},
                "mark": {"type": "text", "text": "−1", "align": "left", "baseline": "alphabetic", "fontSize": 24, "dx": 197, "dy": -14, "color": "black"},
                "encoding": {"x": {"datum": 3.82, "type": "quantitative"}, "y": {"datum": -62.7, "type": "quantitative"}}
              },
              {
                "data": {"values": [{}]},
                "mark": {"type": "text", "text": ")", "align": "left", "baseline": "alphabetic", "fontSize": 37, "dx": 224.5, "color": "black"},
                "encoding": {"x": {"datum": 3.82, "type": "quantitative"}, "y": {"datum": -62.7, "type": "quantitative"}}
              }
            ]
          }
        ],
        "resolve": {"scale": {"y": "independent"}, "axis": {"x": "independent"}}
      }
    ],
    "spacing": 0,
    "bounds": "flush",
    "resolve": {"scale": {"color": "independent"}}
  },
  {
    "hconcat": [
      {
        "width": 69, "height": 192,
        "data": {"values": []},
        "mark": "point",
        "view": {"stroke": null}
      },
      {
        "width": 755, "height": 192,
        "layer": [
          {
            "data": {"name": "fit"},
            "mark": {"type": "line", "color": "#8f5e9c", "strokeWidth": 5, "strokeDash": [30, 18]},
            "encoding": {
              "x": {"field": "y", "type": "quantitative", "scale": {"domain": [0, 0.07], "nice": false, "zero": false}, "axis": {"orient": "top", "values": [0.05], "tickSize": -26, "labels": false, "title": null}},
              "y": {"field": "a", "type": "quantitative", "scale": {"domain": [6.055, 6.065], "nice": false, "zero": false}, "axis": {"orient": "right", "values": [6.06], "tickSize": -26, "labels": false, "title": null}}
            }
          },
          {
            "data": {"name": "lattice"},
            "mark": {"type": "rule", "color": "#8f5e9c", "strokeWidth": 6, "clip": true},
            "encoding": {
              "x": {"field": "lo", "type": "quantitative", "axis": null},
              "x2": {"field": "hi"},
              "y": {"field": "a", "type": "quantitative", "axis": null}
            }
          },
          {
            "data": {"name": "lattice"},
            "mark": {"type": "circle", "color": "#8f5e9c", "size": 1450, "opacity": 1, "clip": false},
            "encoding": {
              "x": {"field": "y", "type": "quantitative", "axis": {"orient": "bottom", "values": [0, 0.05], "format": ".2~f", "tickSize": -26, "labelPadding": 37, "labelFontSize": 34, "title": null}},
              "y": {"field": "a", "type": "quantitative", "axis": {"orient": "left", "values": [6.055, 6.06, 6.065], "format": ".3~f", "tickSize": -26, "labelPadding": 34, "labelFontSize": 34, "title": null}}
            }
          },
          {
            "data": {"values": [{}]},
            "mark": {"type": "text", "text": "(c)", "align": "left", "baseline": "alphabetic", "fontSize": 34, "color": "black"},
            "encoding": {"x": {"datum": 0.0024, "type": "quantitative", "axis": null}, "y": {"datum": 6.05625, "type": "quantitative", "axis": null}}
          },
          {
            "data": {"values": [{}]},
            "mark": {"type": "text", "text": "a", "align": "left", "baseline": "alphabetic", "fontSize": 36, "fontStyle": "italic", "angle": 270, "color": "black"},
            "encoding": {"x": {"datum": -0.01185, "type": "quantitative", "axis": null}, "y": {"datum": 6.05797, "type": "quantitative", "axis": null}}
          },
          {
            "data": {"values": [{}]},
            "mark": {"type": "text", "text": "(Å)", "align": "left", "baseline": "alphabetic", "fontSize": 36, "angle": 270, "dx": 30, "color": "black"},
            "encoding": {"x": {"datum": -0.01185, "type": "quantitative", "axis": null}, "y": {"datum": 6.05797, "type": "quantitative", "axis": null}}
          },
          {
            "data": {"values": [{}]},
            "mark": {"type": "text", "text": "nominal", "align": "left", "baseline": "alphabetic", "fontSize": 38, "color": "black"},
            "encoding": {"x": {"datum": 0.0161, "type": "quantitative", "axis": null}, "y": {"datum": 6.050625, "type": "quantitative", "axis": null}}
          },
          {
            "data": {"values": [{}]},
            "mark": {"type": "text", "text": "y", "align": "left", "baseline": "alphabetic", "fontSize": 38, "fontStyle": "italic", "dx": 143.6, "color": "black"},
            "encoding": {"x": {"datum": 0.0161, "type": "quantitative", "axis": null}, "y": {"datum": 6.050625, "type": "quantitative", "axis": null}}
          },
          {
            "data": {"values": [{}]},
            "mark": {"type": "text", "text": ", TiFe", "align": "left", "baseline": "alphabetic", "fontSize": 38, "dx": 162.6, "color": "black"},
            "encoding": {"x": {"datum": 0.0161, "type": "quantitative", "axis": null}, "y": {"datum": 6.050625, "type": "quantitative", "axis": null}}
          },
          {
            "data": {"values": [{}]},
            "mark": {"type": "text", "text": "2", "align": "left", "baseline": "alphabetic", "fontSize": 26, "dx": 259.7, "dy": 9, "color": "black"},
            "encoding": {"x": {"datum": 0.0161, "type": "quantitative", "axis": null}, "y": {"datum": 6.050625, "type": "quantitative", "axis": null}}
          },
          {
            "data": {"values": [{}]},
            "mark": {"type": "text", "text": "Sn", "align": "left", "baseline": "alphabetic", "fontSize": 38, "dx": 274.0, "color": "black"},
            "encoding": {"x": {"datum": 0.0161, "type": "quantitative", "axis": null}, "y": {"datum": 6.050625, "type": "quantitative", "axis": null}}
          },
          {
            "data": {"values": [{}]},
            "mark": {"type": "text", "text": "1-", "align": "left", "baseline": "alphabetic", "fontSize": 26, "dx": 320.5, "dy": 9, "color": "black"},
            "encoding": {"x": {"datum": 0.0161, "type": "quantitative", "axis": null}, "y": {"datum": 6.050625, "type": "quantitative", "axis": null}}
          },
          {
            "data": {"values": [{}]},
            "mark": {"type": "text", "text": "y", "align": "left", "baseline": "alphabetic", "fontSize": 26, "fontStyle": "italic", "dx": 343.3, "dy": 9, "color": "black"},
            "encoding": {"x": {"datum": 0.0161, "type": "quantitative", "axis": null}, "y": {"datum": 6.050625, "type": "quantitative", "axis": null}}
          },
          {
            "data": {"values": [{}]},
            "mark": {"type": "text", "text": "Sb", "align": "left", "baseline": "alphabetic", "fontSize": 38, "dx": 356.1, "color": "black"},
            "encoding": {"x": {"datum": 0.0161, "type": "quantitative", "axis": null}, "y": {"datum": 6.050625, "type": "quantitative", "axis": null}}
          },
          {
            "data": {"values": [{}]},
            "mark": {"type": "text", "text": "y", "align": "left", "baseline": "alphabetic", "fontSize": 26, "fontStyle": "italic", "dx": 402.7, "dy": 9, "color": "black"},
            "encoding": {"x": {"datum": 0.0161, "type": "quantitative", "axis": null}, "y": {"datum": 6.050625, "type": "quantitative", "axis": null}}
          }
        ],
        "resolve": {"axis": {"x": "independent", "y": "independent"}}
      }
    ],
    "spacing": 0,
    "bounds": "flush"
  }
],
"spacing": 35,
"resolve": {"scale": {"color": "independent"}}
}
